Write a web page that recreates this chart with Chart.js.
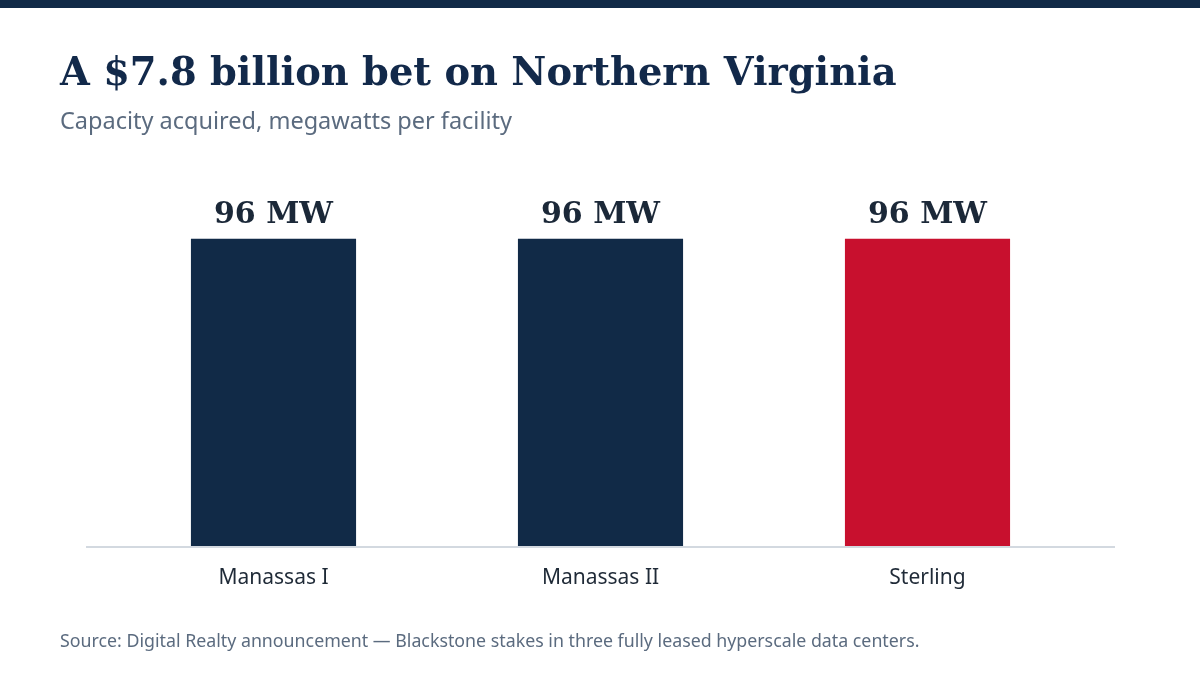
<!DOCTYPE html>
<html>
<head>
<meta charset="utf-8">
<script src="https://cdn.jsdelivr.net/npm/chart.js@4/dist/chart.umd.min.js"></script>
<style>
  html, body { margin: 0; padding: 0; background: #ffffff; }
  #wrap { position: relative; width: 1200px; height: 675px; }
</style>
</head>
<body>
<div id="wrap"><canvas id="myChart" width="1200" height="675"></canvas></div>
<script>
let facilities = ["Manassas I", "Manassas II", "Sterling"];
let megawatts = [96, 96, 96];
let barColors = ["#112a47", "#112a47", "#c8102e"];
let titleText = "A $7.8 billion bet on Northern Virginia";
let subtitleText = "Capacity acquired, megawatts per facility";
let sourceText = "Source: Digital Realty announcement \u2014 Blackstone stakes in three fully leased hyperscale data centers.";

let serif = "'DejaVu Serif', Georgia, serif";
let sans = "'Noto Sans', 'Open Sans', sans-serif";

// header, footer, baseline and value labels
let decorations = {
    id: 'decorations',
    beforeDraw(chart) {
        let c = chart.ctx;
        c.save();
        c.fillStyle = '#ffffff';
        c.fillRect(0, 0, chart.width, chart.height);
        c.fillStyle = '#112a47';
        c.fillRect(0, 0, chart.width, 8);
        c.textAlign = 'left';
        c.textBaseline = 'alphabetic';
        c.fillStyle = '#12294a';
        c.font = "bold 38.4px " + serif;
        c.fillText(titleText, 60, 85);
        c.fillStyle = '#5b6b7f';
        c.font = "23.5px " + sans;
        c.fillText(subtitleText, 60, 129);
        c.font = "17.8px " + sans;
        c.fillText(sourceText, 60, 647);
        c.restore();
    },
    beforeDatasetsDraw(chart) {
        let c = chart.ctx;
        let area = chart.chartArea;
        c.save();
        c.strokeStyle = '#d3d9e0';
        c.lineWidth = 2;
        c.beginPath();
        c.moveTo(86, area.bottom + 1);
        c.lineTo(1115, area.bottom + 1);
        c.stroke();
        c.restore();
    },
    afterDatasetsDraw(chart) {
        let c = chart.ctx;
        let meta = chart.getDatasetMeta(0);
        c.save();
        c.fillStyle = '#1b2838';
        c.font = "bold 30px " + serif;
        c.textAlign = 'center';
        c.textBaseline = 'alphabetic';
        meta.data.forEach((bar, i) => {
            c.fillText(megawatts[i] + " MW", bar.x, bar.y - 16);
        });
        c.restore();
    }
};

let ctx = document.getElementById("myChart").getContext('2d');
let myChart = new Chart(ctx, {
    type: 'bar',
    data: {
        labels: facilities,
        datasets: [{
            data: megawatts,
            backgroundColor: barColors,
            borderWidth: 0,
            barPercentage: 1,
            categoryPercentage: 0.505
        }]
    },
    options: {
        responsive: false,
        animation: false,
        layout: { padding: { left: 110, right: 109, top: 194, bottom: 0 } },
        plugins: {
            legend: { display: false },
            tooltip: { enabled: false }
        },
        scales: {
            x: {
                grid: { display: false, drawTicks: false },
                border: { display: false },
                ticks: {
                    color: '#1f2a37',
                    font: { family: sans, size: 21 },
                    padding: 19
                },
                afterFit(scale) { scale.height = 129; }
            },
            y: {
                display: false,
                min: 0,
                max: 110
            }
        }
    },
    plugins: [decorations]
});
</script>
</body>
</html>
